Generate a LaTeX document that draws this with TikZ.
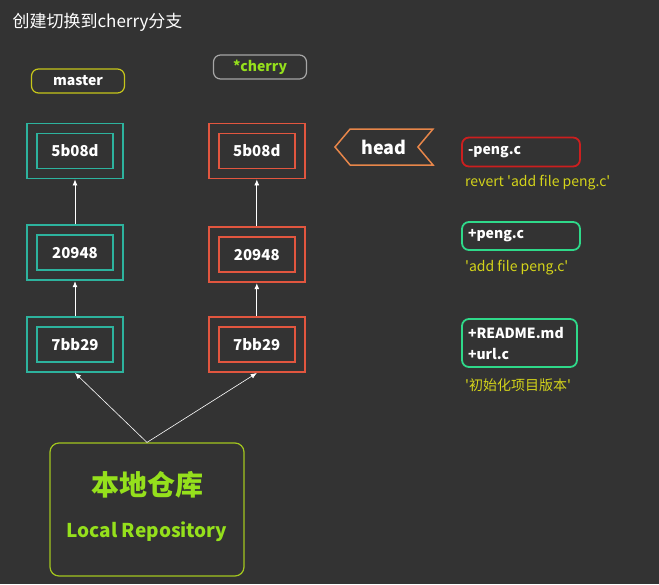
\documentclass[tikz,border=0pt]{standalone}
\usepackage{fontspec}
\setmainfont{Noto Sans CJK SC}
\usepackage{xcolor}
\definecolor{canvas}{HTML}{333333}
\definecolor{teal}{HTML}{2DB39E}
\definecolor{brick}{HTML}{E2563F}
\definecolor{olive}{HTML}{C6C61A}
\definecolor{lime}{HTML}{95E01C}
\definecolor{limeline}{HTML}{A3C61E}
\definecolor{amber}{HTML}{E8864A}
\definecolor{crimson}{HTML}{CC1F1F}
\definecolor{mint}{HTML}{2FD98A}
\definecolor{caption}{HTML}{D4D41A}
\usetikzlibrary{arrows.meta, shapes.symbols, positioning}

\tikzset{
  commit/.style={draw=#1, line width=1.8pt,
        minimum width=96pt, minimum height=55pt,
        text=white, font=\fontsize{15}{18}\selectfont\bfseries,
        path picture={\draw[#1, line width=1.8pt]
          ([shift={(10pt,10pt)}]path picture bounding box.south west) rectangle
          ([shift={(-10pt,-10pt)}]path picture bounding box.north east);}},
  branchtag/.style={rounded corners=7pt, line width=1.2pt,
        minimum width=93pt, minimum height=24pt,
        font=\fontsize{14}{16}\selectfont\bfseries},
  filebox/.style={draw=#1, rounded corners=7pt, line width=1.8pt,
        inner xsep=6pt, align=left, text=white,
        font=\fontsize{14}{21}\selectfont\bfseries},
  note/.style={text=caption, font=\fontsize{14}{16}\selectfont, inner sep=0pt},
  parent/.style={-{Latex[length=6pt, width=5pt]}, white, line width=0.8pt}
}
\newcommand{\q}{\textquotesingle}

\begin{document}
\begin{tikzpicture}[x=1pt, y=-1pt]

  \fill[canvas] (0,0) rectangle (659,584);
  \useasboundingbox (0,0) rectangle (659,584);

  \node[anchor=west, text=white, font=\fontsize{17}{19}\selectfont] (title)
    at (9,22) {创建切换到cherry分支};

  % master column
  \node[commit=teal] (m3) at (75,151) {5b08d};
  \node[commit=teal, below=45pt of m3] (m2) {20948};
  \node[commit=teal, below=35pt of m2] (m1) {7bb29};

  % cherry column
  \node[commit=brick, right=84pt of m3] (c3) {5b08d};
  \node[commit=brick, below=47pt of c3] (c2) {20948};
  \node[commit=brick, below=33pt of c2] (c1) {7bb29};

  \node[branchtag, draw=olive, text=white] (master) at (78,81) {master};
  \node[branchtag, draw=gray!70, text=lime] (cherry) at (260,67) {*cherry};

  \draw[parent] (m1) -- (m2);
  \draw[parent] (m2) -- (m3);
  \draw[parent] (c1) -- (c2);
  \draw[parent] (c2) -- (c3);

  % local repository
  \node[draw=limeline, rounded corners=9pt, line width=1.2pt,
        minimum width=194pt, minimum height=133pt] (repo) at (147,509.5) {};
  \node[text=lime, font=\fontsize{28}{30}\selectfont\bfseries] (repozh)
    at (147,485) {本地仓库};
  \node[text=lime, font=\fontsize{19}{22}\selectfont\bfseries] (repoen)
    at (147,532) {Local Repository};

  \draw[parent, line width=0.6pt] (repo.north) -- (m1.south);
  \draw[parent, line width=0.6pt] (repo.north) -- (c1.south);

  % head pointer
  \node[signal, signal to=west, signal from=east, signal pointer angle=100,
        draw=amber, line width=1.5pt, minimum width=98pt, minimum height=36pt,
        text=white, font=\fontsize{18}{20}\selectfont\bfseries] (head)
    at (384,147) {head};

  % commit contents
  \node[filebox=crimson, text width=106pt, minimum height=29pt] (pengdel)
    at (521,152) {-peng.c};
  \node[note, anchor=west] (revnote) at (465,183) {revert \q add file peng.c\q};

  \node[filebox=mint, text width=106pt, minimum height=28pt] (pengadd)
    at (521,236) {+peng.c};
  \node[note, anchor=west] (addnote) at (465,268) {\q add file peng.c\q};

  \node[filebox=mint, text width=103pt, minimum height=48pt] (initfiles)
    at (519.5,343) {+README.md\\+url.c};
  \node[note, anchor=west] (initnote) at (465,385) {\q 初始化项目版本\q};

\end{tikzpicture}
\end{document}
